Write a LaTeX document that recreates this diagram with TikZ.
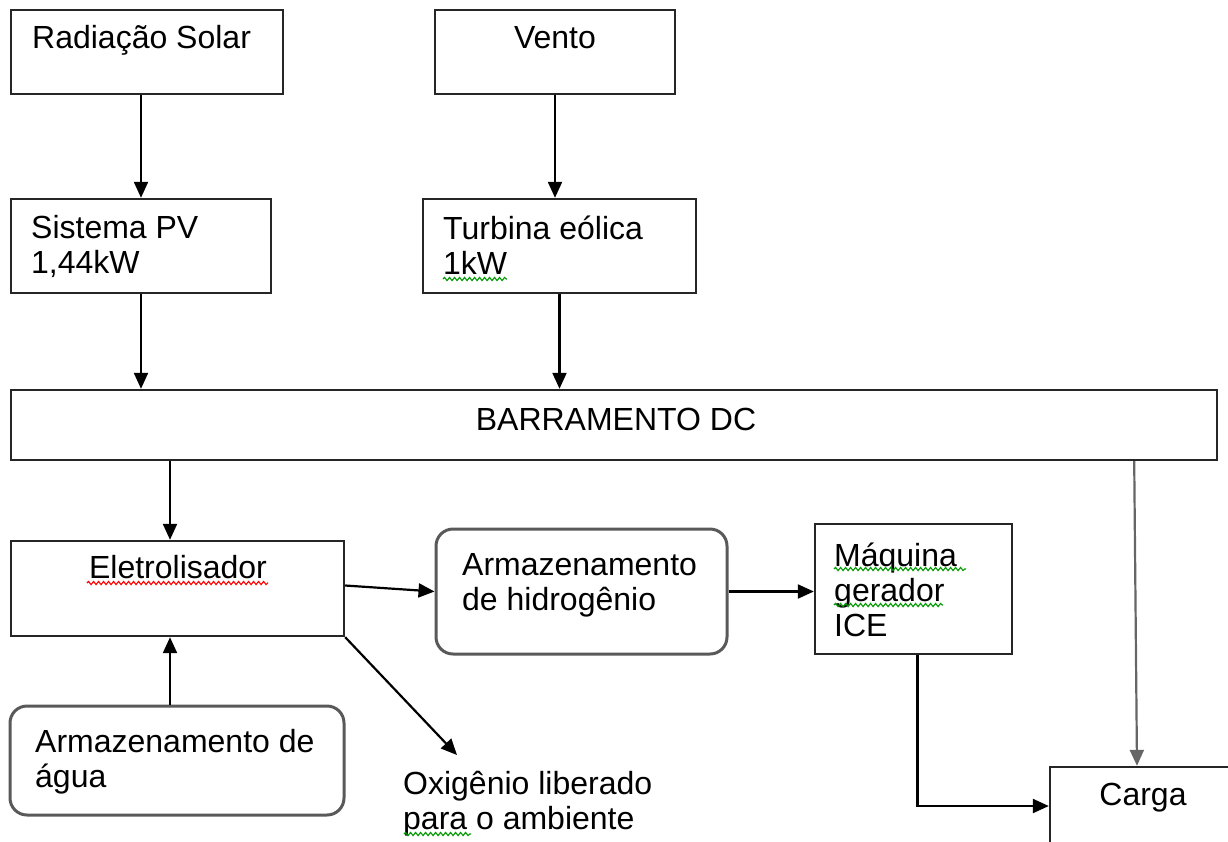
\documentclass[tikz,border=0pt]{standalone}
\usepackage{fontspec}
\setmainfont{Liberation Sans}
\usetikzlibrary{arrows.meta}
\usetikzlibrary{fit}
\usetikzlibrary{decorations.pathmorphing}

\tikzset{
  caixa/.style={draw=black!85, line width=2.4pt, inner sep=0pt},
  caixaredonda/.style={draw=black!65, line width=3pt, rounded corners=17pt, inner sep=0pt},
  rotulo/.style={inner sep=0pt, align=left, font=\fontsize{32}{35}\selectfont},
  seta/.style={line width=2.2pt, -{Triangle[length=16pt,width=14pt]}},
  sublinha/.style={line width=1.1pt, decorate, decoration={snake, amplitude=1.6pt, segment length=5pt}},
}

\begin{document}
\begin{tikzpicture}[x=1pt,y=1pt,yscale=-1,xscale=1]
\useasboundingbox (0,0) rectangle (1228,841);

%Boxes
\node[caixa, fit={(11,10) (283,94)}] (rad) {};
\node[caixa, fit={(435,10) (675,94)}] (vento) {};
\node[caixa, fit={(11,199) (271,293)}] (pv) {};
\node[caixa, fit={(423,199) (696,293)}] (turb) {};
\node[caixa, fit={(11,390) (1217,460)}] (bus) {};
\node[caixa, fit={(11,541) (344,636)}] (eletro) {};
\node[caixaredonda, fit={(436,529) (727,654)}] (hidro) {};
\node[caixa, fit={(815,524) (1012,654)}] (maq) {};
\node[caixaredonda, fit={(10,706) (344,815)}] (agua) {};
\node[caixa, fit={(1050,767) (1236,845)}] (carga) {};

% Text Node (base = last line)
\node[rotulo, anchor=base west] (radtxt) at (32,48) {Radiação Solar};
\node[rotulo, anchor=base] (ventotxt) at (555,48) {Vento};
\node[rotulo, anchor=base west] (pvtxt) at (31,273) {Sistema PV\\1,44kW};
\node[rotulo, anchor=base west] (turbtxt) at (443,274) {Turbina eólica\\1kW};
\node[rotulo, anchor=base] (bustxt) at (616,430) {BARRAMENTO DC};
\node[rotulo, anchor=base] (eletrotxt) at (178,578) {Eletrolisador};
\node[rotulo, anchor=base west] (hidrotxt) at (462,610) {Armazenamento\\de hidrogênio};
\node[rotulo, anchor=base west] (maqtxt) at (834,636) {Máquina\\gerador\\ICE};
\node[rotulo, anchor=base west] (aguatxt) at (35,787) {Armazenamento de\\água};
\node[rotulo, anchor=base west] (oxitxt) at (403,829) {Oxigênio liberado\\para o ambiente};
\node[rotulo, anchor=base] (cargatxt) at (1143,805) {Carga};

%Spelling marks
\draw[sublinha, red] (87,583) -- (268,583);
\draw[sublinha, green!60!black] (443,279) -- (507,279);
\draw[sublinha, green!60!black] (834,569) -- (966,569);
\draw[sublinha, green!60!black] (834,605) -- (943,605);
\draw[sublinha, green!60!black] (404,834) -- (471,834);

%Arrows
\coordinate (ax) at (170,500);
\coordinate (oxi) at (457,755);
\draw[seta] (pv.north |- rad.south) -- (pv.north);
\draw[seta] (vento.south) -- (vento.south |- turb.north);
\draw[seta] (pv.south) -- (pv.south |- bus.north);
\draw[seta] (turb.south) -- (turb.south |- bus.north);
\draw[seta] (bus.south -| ax) -- (eletro.north -| ax);
\draw[seta] (agua.north -| ax) -- (eletro.south -| ax);
\draw[seta] ([yshift=-3pt]eletro.east) -- (hidro.west);
\draw[seta] (hidro.east) -- (hidro.east -| maq.west);
\draw[seta] (eletro.south east) -- (oxi);
\draw[seta] ([xshift=4pt]maq.south) |- (carga.west);
\draw[seta, draw=black!60] ([xshift=-84pt]bus.south east) -- ([xshift=-6pt]carga.north);

\end{tikzpicture}
\end{document}
